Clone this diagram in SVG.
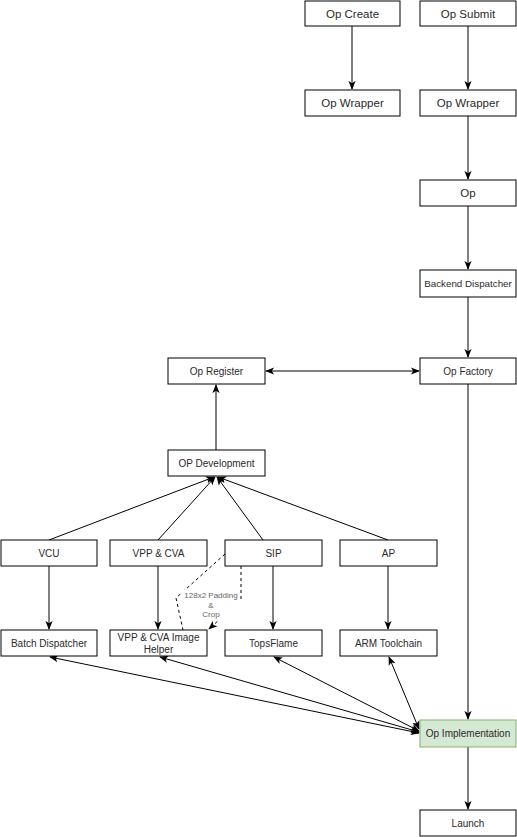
<svg xmlns="http://www.w3.org/2000/svg" width="517" height="837" viewBox="0 0 517 837">
<style>
.box{fill:#fff;stroke:#000;stroke-width:1}
.green{fill:#d5e8d4;stroke:#82b366;stroke-width:1}
.t{font-family:"Liberation Sans",Arial,sans-serif;fill:#2a2a2a;text-anchor:middle;dominant-baseline:central}
.t12{font-size:11.5px}
.t11{font-size:10px}
.t10{font-size:10px}
.t9{font-size:9.8px}
.e{fill:none;stroke:#000;stroke-width:1}
.d{fill:none;stroke:#000;stroke-width:1;stroke-dasharray:3 3}
.lbl{font-family:"Liberation Sans",Arial,sans-serif;font-size:8px;fill:#666;text-anchor:middle;dominant-baseline:central}
</style>
<defs>
<marker id="a" viewBox="0 0 10 8" refX="9" refY="4" markerWidth="9" markerHeight="8" markerUnits="userSpaceOnUse" orient="auto-start-reverse">
<path d="M0,0 L10,4 L0,8 L2.5,4 z" fill="#000"/>
</marker>
</defs>
<rect width="517" height="837" fill="#fff"/>
<g id="connectors">
<path class="e" d="M352,26 V89" marker-end="url(#a)"/>
<path class="e" d="M468,26 V89" marker-end="url(#a)"/>
<path class="e" d="M468,116 V179" marker-end="url(#a)"/>
<path class="e" d="M468,206 V269" marker-end="url(#a)"/>
<path class="e" d="M468,297 V357" marker-end="url(#a)"/>
<path class="e" d="M266,371 H419" marker-start="url(#a)" marker-end="url(#a)"/>
<path class="e" d="M216,450 V385" marker-end="url(#a)"/>
<path class="e" d="M468,384 V719" marker-end="url(#a)"/>
<path class="e" d="M468,747 V809" marker-end="url(#a)"/>
<path class="e" d="M49,540 L214,477" marker-end="url(#a)"/>
<path class="e" d="M158,540 L215,477" marker-end="url(#a)"/>
<path class="e" d="M263,540 L217,477" marker-end="url(#a)"/>
<path class="e" d="M388,540 L218,477" marker-end="url(#a)"/>
<path class="e" d="M49,566 V629" marker-end="url(#a)"/>
<path class="e" d="M158,566 V629" marker-end="url(#a)"/>
<path class="e" d="M273,566 V629" marker-end="url(#a)"/>
<path class="e" d="M388,566 V629" marker-end="url(#a)"/>
<path class="e" d="M50,657 L419,733" marker-start="url(#a)" marker-end="url(#a)"/>
<path class="e" d="M160,657 L419,732" marker-start="url(#a)" marker-end="url(#a)"/>
<path class="e" d="M274,657 L419,731" marker-start="url(#a)" marker-end="url(#a)"/>
<path class="e" d="M389,657 L419,729" marker-start="url(#a)" marker-end="url(#a)"/>
<path class="d" d="M225,554 L176,598 L183,630"/>
<path class="d" d="M241,566 L241,600 L209,629" marker-end="url(#a)"/>
<rect x="182" y="590" width="58" height="30" fill="#fff"/>
<text class="lbl" x="211" y="595">128x2 Padding</text>
<text class="lbl" x="211" y="605">&amp;</text>
<text class="lbl" x="211" y="614">Crop</text>
</g>
<g id="op-create"><rect class="box" x="305" y="1" width="95" height="25"/><text class="t t12" x="352.5" y="13.5">Op Create</text></g>
<g id="op-submit"><rect class="box" x="420" y="1" width="96" height="25"/><text class="t t12" x="468" y="13.5">Op Submit</text></g>
<g id="op-wrapper-1"><rect class="box" x="305" y="90" width="95" height="26"/><text class="t t12" x="352.5" y="103">Op Wrapper</text></g>
<g id="op-wrapper-2"><rect class="box" x="420" y="90" width="96" height="26"/><text class="t t12" x="468" y="103">Op Wrapper</text></g>
<g id="op"><rect class="box" x="420" y="180" width="96" height="26"/><text class="t t12" x="468" y="193">Op</text></g>
<g id="backend-dispatcher"><rect class="box" x="420" y="270" width="96" height="27"/><text class="t t9" x="468" y="283.5">Backend Dispatcher</text></g>
<g id="op-factory"><rect class="box" x="420" y="358" width="96" height="26"/><text class="t t10" x="468" y="371">Op Factory</text></g>
<g id="op-register"><rect class="box" x="168" y="358" width="97" height="26"/><text class="t t10" x="216.5" y="371">Op Register</text></g>
<g id="op-development"><rect class="box" x="168" y="450" width="97" height="26"/><text class="t t10" x="216.5" y="463">OP Development</text></g>
<g id="vcu"><rect class="box" x="1" y="540" width="96" height="26"/><text class="t t11" x="49" y="553">VCU</text></g>
<g id="vpp-cva"><rect class="box" x="110" y="540" width="97" height="26"/><text class="t t11" x="158.5" y="553">VPP &amp; CVA</text></g>
<g id="sip"><rect class="box" x="225" y="540" width="97" height="26"/><text class="t t11" x="273.5" y="553">SIP</text></g>
<g id="ap"><rect class="box" x="340" y="540" width="97" height="26"/><text class="t t11" x="388.5" y="553">AP</text></g>
<g id="batch-dispatcher"><rect class="box" x="1" y="630" width="96" height="26"/><text class="t t11" x="49" y="643">Batch Dispatcher</text></g>
<g id="vpp-cva-helper"><rect class="box" x="110" y="630" width="97" height="26"/><text class="t t11" x="158.5" y="637.5">VPP &amp; CVA Image</text><text class="t t11" x="158.5" y="649.5">Helper</text></g>
<g id="topsflame"><rect class="box" x="225" y="630" width="97" height="26"/><text class="t t11" x="273.5" y="643">TopsFlame</text></g>
<g id="arm-toolchain"><rect class="box" x="340" y="630" width="97" height="26"/><text class="t t11" x="388.5" y="643">ARM Toolchain</text></g>
<g id="op-implementation"><rect class="green" x="420" y="720" width="96" height="27"/><text class="t t11" x="468" y="733.5">Op Implementation</text></g>
<g id="launch"><rect class="box" x="420" y="810" width="96" height="26"/><text class="t t11" x="468" y="823">Launch</text></g>
</svg>
